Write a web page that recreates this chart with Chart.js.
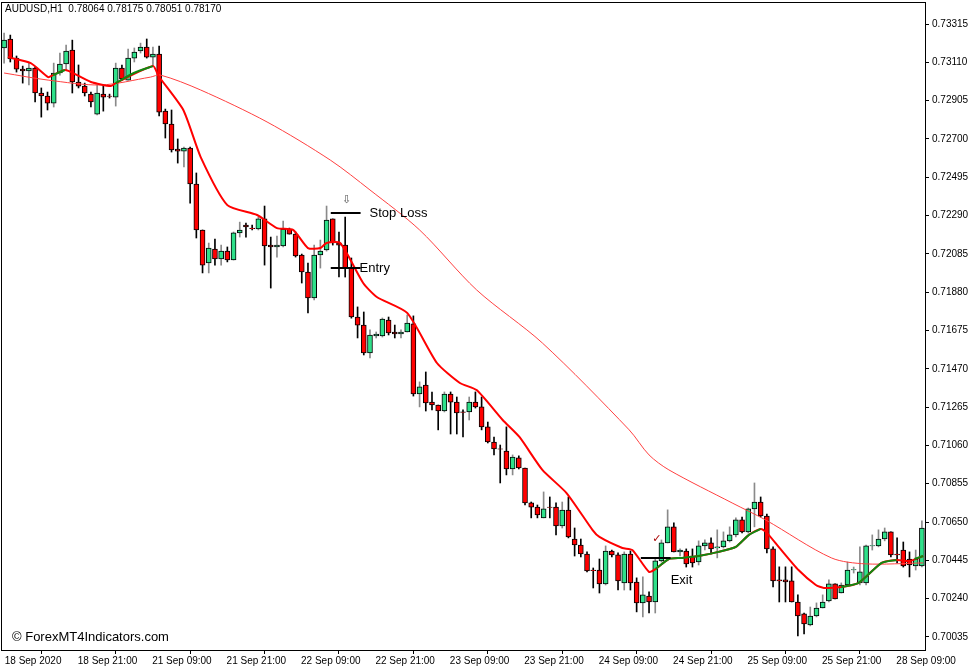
<!DOCTYPE html>
<html>
<head>
<meta charset="utf-8">
<script src="https://cdn.jsdelivr.net/npm/chart.js@4.4.0/dist/chart.umd.min.js"></script>
<style>
  html, body { margin: 0; padding: 0; background: #fff; }
  #wrap { position: relative; width: 977px; height: 672px; }
</style>
</head>
<body>
<div id="wrap"><canvas id="chart" width="977" height="672"></canvas></div>
<script>
// AUDUSD H1 - Kerzen (open, high, low, close)
const opens  = [0.73187,0.73235,0.73133,0.73074,0.73064,0.73080,0.72946,0.72930,0.72892,0.73053,0.73101,0.73176,0.73005,0.72983,0.72940,0.72833,0.72940,0.72930,0.72924,0.73080,0.73015,0.73133,0.73171,0.73192,0.73138,0.73154,0.72849,0.72780,0.72646,0.72635,0.72651,0.72459,0.72213,0.72036,0.72111,0.72058,0.72100,0.72052,0.72197,0.72239,0.72223,0.72218,0.72272,0.72132,0.72122,0.72127,0.72218,0.72191,0.72079,0.71988,0.71849,0.72079,0.72106,0.72272,0.72143,0.72132,0.72009,0.71747,0.71704,0.71555,0.71646,0.71646,0.71731,0.71667,0.71656,0.71667,0.71710,0.71335,0.71383,0.71292,0.71276,0.71244,0.71335,0.71292,0.71239,0.71239,0.71292,0.71266,0.71159,0.71078,0.71041,0.71030,0.70934,0.70993,0.70939,0.70752,0.70730,0.70672,0.70730,0.70730,0.70629,0.70714,0.70559,0.70527,0.70479,0.70393,0.70393,0.70319,0.70495,0.70474,0.70324,0.70479,0.70329,0.70217,0.70254,0.70222,0.70442,0.70538,0.70624,0.70490,0.70495,0.70468,0.70436,0.70522,0.70538,0.70511,0.70517,0.70549,0.70581,0.70661,0.70597,0.70720,0.70757,0.70682,0.70506,0.70340,0.70340,0.70335,0.70222,0.70158,0.70099,0.70147,0.70190,0.70228,0.70319,0.70270,0.70313,0.70393,0.70324,0.70324,0.70522,0.70522,0.70559,0.70597,0.70479,0.70500,0.70452,0.70415,0.70415];
const highs  = [0.73267,0.73256,0.73144,0.73090,0.73106,0.73085,0.72973,0.72951,0.73106,0.73160,0.73203,0.73229,0.73096,0.72999,0.72951,0.72989,0.72989,0.72940,0.73106,0.73096,0.73181,0.73187,0.73213,0.73235,0.73192,0.73197,0.72860,0.72855,0.72700,0.72657,0.72657,0.72518,0.72213,0.72143,0.72164,0.72132,0.72122,0.72202,0.72255,0.72250,0.72239,0.72282,0.72341,0.72175,0.72180,0.72261,0.72223,0.72202,0.72084,0.72036,0.72132,0.72159,0.72341,0.72272,0.72202,0.72282,0.72063,0.71801,0.71774,0.71678,0.71667,0.71742,0.71747,0.71704,0.71678,0.71758,0.71753,0.71400,0.71453,0.71346,0.71276,0.71346,0.71346,0.71319,0.71250,0.71319,0.71346,0.71319,0.71185,0.71105,0.71062,0.71159,0.71009,0.71004,0.70939,0.70757,0.70741,0.70811,0.70784,0.70752,0.70757,0.70784,0.70618,0.70559,0.70490,0.70404,0.70452,0.70522,0.70500,0.70485,0.70490,0.70495,0.70351,0.70356,0.70276,0.70458,0.70554,0.70715,0.70645,0.70506,0.70506,0.70506,0.70549,0.70554,0.70565,0.70608,0.70597,0.70624,0.70672,0.70677,0.70725,0.70859,0.70784,0.70693,0.70517,0.70410,0.70410,0.70410,0.70260,0.70163,0.70195,0.70217,0.70260,0.70340,0.70319,0.70324,0.70436,0.70409,0.70517,0.70527,0.70581,0.70608,0.70618,0.70597,0.70565,0.70543,0.70490,0.70500,0.70656];
const lows   = [0.73106,0.73112,0.73058,0.72999,0.72989,0.72898,0.72817,0.72855,0.72871,0.73042,0.73069,0.72946,0.72973,0.72930,0.72871,0.72828,0.72849,0.72919,0.72876,0.73015,0.73015,0.73112,0.73160,0.73133,0.73090,0.72823,0.72705,0.72630,0.72571,0.72550,0.72357,0.72170,0.71983,0.71983,0.72025,0.72025,0.72042,0.72052,0.72175,0.72175,0.72213,0.72213,0.72025,0.71902,0.72068,0.72122,0.72191,0.72068,0.71929,0.71769,0.71838,0.72009,0.72100,0.72132,0.71961,0.71961,0.71741,0.71635,0.71544,0.71528,0.71635,0.71640,0.71651,0.71635,0.71635,0.71667,0.71324,0.71266,0.71244,0.71250,0.71143,0.71239,0.71121,0.71121,0.71105,0.71196,0.71260,0.71143,0.71073,0.71009,0.70859,0.70902,0.70902,0.70934,0.70741,0.70672,0.70672,0.70672,0.70672,0.70581,0.70618,0.70565,0.70468,0.70463,0.70383,0.70297,0.70270,0.70313,0.70463,0.70286,0.70286,0.70286,0.70169,0.70142,0.70163,0.70163,0.70436,0.70538,0.70490,0.70468,0.70409,0.70409,0.70420,0.70500,0.70479,0.70458,0.70511,0.70543,0.70570,0.70591,0.70591,0.70624,0.70677,0.70485,0.70303,0.70222,0.70222,0.70222,0.70040,0.70051,0.70094,0.70142,0.70190,0.70222,0.70238,0.70270,0.70313,0.70377,0.70313,0.70313,0.70500,0.70517,0.70549,0.70463,0.70431,0.70409,0.70356,0.70393,0.70409];
const closes = [0.73229,0.73128,0.73074,0.73064,0.73080,0.72946,0.72930,0.72892,0.73053,0.73101,0.73171,0.73005,0.72983,0.72946,0.72898,0.72946,0.72924,0.72928,0.73080,0.73021,0.73133,0.73165,0.73192,0.73138,0.73154,0.72844,0.72780,0.72641,0.72635,0.72651,0.72459,0.72213,0.72025,0.72116,0.72058,0.72100,0.72052,0.72197,0.72213,0.72229,0.72220,0.72272,0.72127,0.72122,0.72132,0.72218,0.72191,0.72074,0.71988,0.71849,0.72079,0.72100,0.72266,0.72143,0.72132,0.72009,0.71747,0.71704,0.71555,0.71651,0.71656,0.71736,0.71662,0.71656,0.71667,0.71715,0.71335,0.71373,0.71287,0.71276,0.71244,0.71335,0.71292,0.71234,0.71236,0.71292,0.71266,0.71159,0.71078,0.71041,0.71040,0.70934,0.70998,0.70939,0.70752,0.70730,0.70688,0.70720,0.70728,0.70629,0.70714,0.70570,0.70527,0.70479,0.70388,0.70390,0.70319,0.70495,0.70474,0.70335,0.70479,0.70324,0.70217,0.70260,0.70222,0.70442,0.70538,0.70624,0.70490,0.70500,0.70426,0.70431,0.70522,0.70538,0.70506,0.70517,0.70549,0.70581,0.70661,0.70597,0.70720,0.70757,0.70682,0.70506,0.70335,0.70335,0.70330,0.70222,0.70147,0.70104,0.70147,0.70190,0.70222,0.70319,0.70238,0.70313,0.70393,0.70395,0.70383,0.70522,0.70524,0.70559,0.70597,0.70474,0.70474,0.70415,0.70420,0.70452,0.70618];

// schneller MA (rot, dick) - Stützpunkte [Kerzenindex, Preis]
const fastMa = [[0.6,0.73138],[4.3,0.73106],[7.1,0.73031],[7.9,0.73042],[9.8,0.73069],[10.8,0.73058],[14,0.73005],[17.2,0.72983],[18,0.72999],[24,0.73090],[24.9,0.73037],[28.9,0.72855],[31.7,0.72603],[36,0.72346],[40.8,0.72293],[44,0.72223],[46.6,0.72213],[49,0.72116],[51,0.72116],[52,0.72143],[54.2,0.72143],[57.9,0.71929],[60.1,0.71854],[65,0.71769],[69.8,0.71501],[73.5,0.71394],[76.2,0.71356],[80.4,0.71196],[83.1,0.71105],[86.8,0.70929],[90.7,0.70805],[94.9,0.70607],[96,0.70570],[99.7,0.70511],[101.3,0.70500],[104,0.70383],[105.1,0.70399],[107.2,0.70452],[109.2,0.70458],[112,0.70468],[115.2,0.70490],[118,0.70517],[120.1,0.70581],[122,0.70613],[123,0.70592],[124.9,0.70517],[128.1,0.70393],[130.9,0.70313],[132.2,0.70297],[135,0.70302],[137.8,0.70324],[141.5,0.70431],[143.9,0.70447],[146.1,0.70442],[148.2,0.70468]];
// grüne Abschnitte (null = Lücke)
const fastMaUp = [[7.9,0.73042],[9.8,0.73069],[10,null],[18,0.72999],[20.9,0.73053],[24,0.73090],[25,null],[105.1,0.70399],[107.2,0.70452],[109.2,0.70458],[112,0.70468],[115.2,0.70490],[118,0.70517],[120.1,0.70581],[122,0.70613],[123,null],[135,0.70302],[137.8,0.70324],[141.5,0.70431],[143.9,0.70447],[145,null],[146.8,0.70452],[148.2,0.70468]];
// langsamer MA (dünn)
const slowMa = [[0,0.73053],[7.1,0.73015],[15.6,0.72989],[23.6,0.73031],[25.2,0.73042],[31.7,0.72962],[42.4,0.72791],[52.6,0.72587],[59,0.72427],[67,0.72213],[76.2,0.71892],[86.8,0.71608],[100.8,0.71143],[104,0.71009],[107.2,0.70929],[117.4,0.70752],[122.8,0.70661],[133.4,0.70458],[138.9,0.70426],[148.2,0.70431]];

const priceTicks = [0.73315,0.73110,0.72905,0.72700,0.72495,0.72290,0.72085,0.71880,0.71675,0.71470,0.71265,0.71060,0.70855,0.70650,0.70445,0.70240,0.70035];
const timeLabels = ['18 Sep 2020','18 Sep 21:00','21 Sep 09:00','21 Sep 21:00','22 Sep 09:00','22 Sep 21:00','23 Sep 09:00','23 Sep 21:00','24 Sep 09:00','24 Sep 21:00','25 Sep 09:00','25 Sep 21:00','28 Sep 09:00'];

// Markierungen: [Kerzenindex von, bis, Preis, Text]
const levels = [[53, 57, 0.72304, 'Stop Loss'], [53, 57, 0.72010, 'Entry'], [103, 107, 0.70458, 'Exit']];

const BULL = '#2fe08a';
const BEAR = '#ff0000';

const idx = opens.map((_, i) => i);
const isUp = idx.map(i => closes[i] >= opens[i]);
const toXY = arr => arr.map(p => ({ x: p[0], y: p[1] }));

// Rahmen, Titel, Markierungen
const overlay = {
    id: 'overlay',
    afterDatasetsDraw(chart) {
        const { ctx, chartArea: a, scales: { x, y } } = chart;
        ctx.save();
        ctx.strokeStyle = '#000';
        ctx.lineWidth = 1;
        ctx.strokeRect(a.left + 0.5, a.top + 0.5, a.right - a.left, a.bottom - a.top);

        ctx.fillStyle = '#000';
        ctx.font = '10px "Liberation Sans"';
        ctx.textBaseline = 'middle';
        ctx.fillText('AUDUSD,H1  0.78064 0.78175 0.78051 0.78170', 5, 9);

        ctx.lineWidth = 2;
        ctx.font = '13px "Liberation Sans"';
        levels.forEach(([a0, a1, p, label], k) => {
            const py = Math.round(y.getPixelForValue(p));
            ctx.beginPath();
            ctx.moveTo(x.getPixelForValue(a0) - 2, py);
            ctx.lineTo(x.getPixelForValue(a1) + 3, py);
            ctx.stroke();
            if (k === 2) {
                ctx.fillText(label, x.getPixelForValue(a1) + 3, y.getPixelForValue(0.70340));
            } else if (k === 0) {
                ctx.fillText(label, x.getPixelForValue(a1) + 12, py);
            } else {
                ctx.fillText(label, x.getPixelForValue(a1) + 2, py);
            }
        });
        ctx.font = '11px "DejaVu Sans"';
        ctx.fillStyle = '#555';
        ctx.fillText('⇩', x.getPixelForValue(54.5), y.getPixelForValue(0.72375));
        ctx.fillStyle = '#a00';
        ctx.fillText('✓', x.getPixelForValue(104.5), y.getPixelForValue(0.70560));

        ctx.fillStyle = '#000';
        ctx.font = '13px "Liberation Sans"';
        ctx.fillText('© ForexMT4Indicators.com', 12, 637);
        ctx.restore();
    }
};

new Chart(document.getElementById('chart'), {
    type: 'bar',
    data: {
        datasets: [
            {
                type: 'line', label: 'fastUp', data: toXY(fastMaUp),
                borderColor: '#118811', borderWidth: 2, pointRadius: 0, tension: 0.2, spanGaps: false, order: 0
            },
            {
                type: 'line', label: 'fast', data: toXY(fastMa),
                borderColor: '#ff0000', borderWidth: 2, pointRadius: 0, tension: 0.2, order: 0
            },
            {
                type: 'line', label: 'slow', data: toXY(slowMa),
                borderColor: '#ff4040', borderWidth: 1, pointRadius: 0, tension: 0.3, order: 0
            },
            {
                label: 'body', data: idx.map(i => ({ x: i, y: [opens[i], closes[i]] })),
                backgroundColor: idx.map(i => isUp[i] ? BULL : BEAR),
                borderColor: '#000', borderWidth: 1, borderSkipped: false,
                barThickness: 5, grouped: false, order: 1
            },
            {
                label: 'wick', data: idx.map(i => ({ x: i, y: [lows[i], highs[i]] })),
                backgroundColor: idx.map(i => isUp[i] ? '#8a8a8a' : '#000'),
                barThickness: 1, grouped: false, order: 2
            }
        ]
    },
    options: {
        responsive: false,
        animation: false,
        layout: { padding: { left: 1, top: 2, right: 0, bottom: 0 } },
        plugins: { legend: { display: false }, tooltip: { enabled: false } },
        scales: {
            x: {
                type: 'linear', min: -0.5, max: 148.5, offset: false,
                afterBuildTicks: (axis) => { axis.ticks = timeLabels.map((_, k) => ({ value: k * 12 })); },
                afterFit: (axis) => { axis.height = 22; axis.paddingLeft = 0; axis.paddingRight = 0; },
                ticks: {
                    callback: (v) => timeLabels[v / 12] || '',
                    autoSkip: false, maxRotation: 0, labelOffset: 29, padding: 1,
                    color: '#000', font: { family: 'Liberation Sans', size: 10 }
                },
                grid: { drawOnChartArea: false, tickLength: 4, color: '#000' },
                border: { color: '#000' }
            },
            y: {
                position: 'right', min: 0.69965, max: 0.73433,
                afterBuildTicks: (axis) => { axis.ticks = priceTicks.map(v => ({ value: v })); },
                afterFit: (axis) => { axis.width = 52; axis.paddingTop = 0; axis.paddingBottom = 0; },
                ticks: {
                    callback: (v) => v.toFixed(5), padding: 3,
                    color: '#000', font: { family: 'Liberation Sans', size: 10 }
                },
                grid: { drawOnChartArea: false, tickLength: 4, color: '#000' },
                border: { color: '#000' }
            }
        }
    },
    plugins: [overlay]
});
</script>
</body>
</html>
